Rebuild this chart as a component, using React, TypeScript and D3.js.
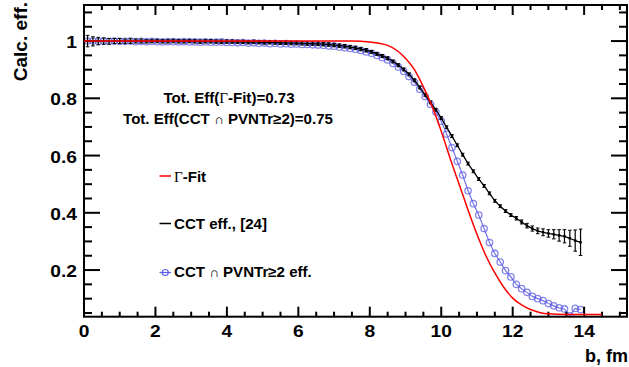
import React from "react";
import * as d3 from "d3";

// ---------- data ----------
const redB = [0, 7.5, 8.0, 8.5, 9.0, 9.25, 9.5, 9.75, 10.0, 10.25, 10.5, 10.75, 11.0, 11.25, 11.5, 11.75, 12.0, 12.25, 12.5, 12.75, 13.0, 13.5, 14.0, 14.5];
const redV = [1.0, 1.0, 0.997, 0.985, 0.94, 0.9, 0.84, 0.77, 0.685, 0.59, 0.5, 0.41, 0.325, 0.25, 0.19, 0.14, 0.102, 0.078, 0.062, 0.052, 0.047, 0.045, 0.045, 0.045];

const bins = [0.1, 0.25, 0.4, 0.55, 0.7, 0.85, 1.0, 1.15, 1.3, 1.45, 1.6, 1.75, 1.9, 2.05, 2.2, 2.35, 2.5, 2.65, 2.8, 2.95, 3.1, 3.25, 3.4, 3.55, 3.7, 3.85, 4.0,
  4.15, 4.3, 4.45, 4.6, 4.75, 4.9, 5.05, 5.2, 5.35, 5.5, 5.65, 5.8, 5.95, 6.1,
  6.25, 6.4, 6.55, 6.7, 6.85, 7.0, 7.15, 7.3, 7.45, 7.6, 7.75, 7.9,
  8.05, 8.2, 8.35, 8.5, 8.65, 8.8, 8.95, 9.1, 9.25, 9.4, 9.55, 9.7, 9.85,
  10.0, 10.15, 10.3, 10.45, 10.6, 10.75, 10.9, 11.05, 11.2, 11.35, 11.5, 11.65, 11.8, 11.95,
  12.1, 12.25, 12.4, 12.55, 12.7, 12.85, 13.0, 13.15, 13.3, 13.45, 13.6, 13.75, 13.9];

const cctV = [1.0, 0.999, 1.0, 1.0, 0.999, 1.0, 1.0, 0.999, 1.0, 1.0, 1.0, 0.999, 1.0, 1.0, 0.999, 0.999, 1.0, 0.999, 0.999, 1.0, 0.999, 0.998, 0.999, 0.999, 0.998, 0.998, 0.998,
  0.998, 0.997, 0.997, 0.996, 0.997, 0.996, 0.995, 0.996, 0.995, 0.994, 0.994, 0.993, 0.993, 0.992,
  0.991, 0.991, 0.99, 0.989, 0.988, 0.986, 0.984, 0.982, 0.979, 0.976, 0.972, 0.968,
  0.962, 0.955, 0.948, 0.94, 0.929, 0.916, 0.901, 0.884, 0.863, 0.838, 0.812, 0.786, 0.76,
  0.731, 0.699, 0.668, 0.636, 0.603, 0.572, 0.545, 0.518, 0.494, 0.468, 0.442, 0.423, 0.406, 0.392,
  0.381, 0.368, 0.355, 0.345, 0.337, 0.332, 0.328, 0.325, 0.321, 0.318, 0.311, 0.303, 0.297];

const cctErr = [0.02, 0.016, 0.013, 0.011, 0.01, 0.009, 0.009, 0.008, 0.008, 0.007, 0.007, 0.006, 0.006, 0.006, 0.006, 0.006, 0.006, 0.006, 0.006, 0.006, 0.006, 0.006, 0.006, 0.006, 0.006, 0.006, 0.006,
  0.006, 0.006, 0.006, 0.006, 0.006, 0.006, 0.006, 0.006, 0.006, 0.006, 0.006, 0.006, 0.006, 0.006,
  0.006, 0.006, 0.006, 0.006, 0.006, 0.006, 0.006, 0.006, 0.006, 0.006, 0.006, 0.006,
  0.005, 0.005, 0.005, 0.005, 0.005, 0.005, 0.005, 0.005, 0.005, 0.005, 0.005, 0.005, 0.005,
  0.005, 0.005, 0.005, 0.005, 0.005, 0.005, 0.005, 0.005, 0.005, 0.005, 0.005, 0.005, 0.005, 0.005,
  0.006, 0.007, 0.008, 0.009, 0.01, 0.012, 0.013, 0.016, 0.02, 0.023, 0.028, 0.037, 0.046];

const pvV = [1.0, 1.0, 0.999, 1.0, 0.999, 1.0, 0.999, 0.999, 1.0, 0.998, 0.999, 0.998, 0.999, 0.998, 0.997, 0.998, 0.998, 0.997, 0.998, 0.997, 0.997, 0.996, 0.997, 0.996, 0.996, 0.997, 0.995,
  0.995, 0.994, 0.995, 0.993, 0.994, 0.992, 0.993, 0.991, 0.992, 0.99, 0.991, 0.989, 0.99, 0.988,
  0.988, 0.987, 0.986, 0.985, 0.983, 0.982, 0.979, 0.977, 0.974, 0.971, 0.967, 0.962,
  0.957, 0.95, 0.942, 0.934, 0.922, 0.909, 0.894, 0.876, 0.856, 0.832, 0.806, 0.779, 0.752,
  0.72, 0.675, 0.628, 0.58, 0.532, 0.477, 0.432, 0.392, 0.345, 0.296, 0.258, 0.228, 0.198, 0.176,
  0.15, 0.135, 0.122, 0.108, 0.1, 0.093, 0.083, 0.075, 0.068, 0.064, 0.04, 0.066, 0.062];

const xMajor = [0, 2, 4, 6, 8, 10, 12, 14];
const xMinor = [0.5, 1, 1.5, 2.5, 3, 3.5, 4.5, 5, 5.5, 6.5, 7, 7.5, 8.5, 9, 9.5, 10.5, 11, 11.5, 12.5, 13, 13.5, 14.5, 15];
const yMajor = [0.2, 0.4, 0.6, 0.8, 1];
const yMinor = [0.05, 0.1, 0.15, 0.25, 0.3, 0.35, 0.45, 0.5, 0.55, 0.65, 0.7, 0.75, 0.85, 0.9, 0.95, 1.05, 1.1];
const yLabels = ["0.2", "0.4", "0.6", "0.8", "1"];

// ---------- layout ----------
const L = 84, R = 627, T = 5, B = 316.7;
const x = d3.scaleLinear().domain([0, 15.2]).range([L, R]);
const y = d3.scaleLinear().domain([0.037, 1.126]).range([B, T]);

const FONT = "'Liberation Sans', Arial, Helvetica, sans-serif";
const RED = "#ff0000";
const BLUE = "#5c5ce6";

function Txt(props: any) {
  const { px, py, size, anchor = "start", sx = 1, rot = 0, children } = props;
  return (
    <text
      transform={`translate(${px},${py}) rotate(${rot}) scale(${sx},1)`}
      fontSize={size}
      fontFamily={FONT}
      fontWeight="bold"
      textAnchor={anchor}
      fill="#000"
    >
      {children}
    </text>
  );
}

export default function App() {
  const redLine = d3
    .line<number>()
    .x((_, i) => x(redB[i]))
    .y((d) => y(d))
    .curve(d3.curveMonotoneX)(redV) as string;

  const cctLine = d3
    .line<number>()
    .x((_, i) => x(bins[i]))
    .y((d) => y(d))(cctV) as string;

  const pvLine = d3
    .line<number>()
    .x((_, i) => x(bins[i]))
    .y((d) => y(d))(pvV) as string;

  return (
    <svg width={629} height={367} style={{ position: "absolute", left: 0, top: 0 }}>
      <rect x={0} y={0} width={629} height={367} fill="#fff" />
      <defs>
        <clipPath id="plot">
          <rect x={L} y={T} width={R - L} height={B - T} />
        </clipPath>
      </defs>

      <g clipPath="url(#plot)">
        {/* blue series */}
        <path d={pvLine} fill="none" stroke={BLUE} strokeWidth={1.2} strokeOpacity={0.85} />
        {pvV.map((v, i) => (
          <circle key={"pv" + i} cx={x(bins[i])} cy={y(v)} r={3.2} fill="none" stroke={BLUE} strokeOpacity={0.75} strokeWidth={1.3} />
        ))}
        {/* black series */}
        <path d={cctLine} fill="none" stroke="#000" strokeWidth={1.3} />
        {cctV.map((v, i) => {
          const cx = x(bins[i]);
          const y1 = y(v + cctErr[i]);
          const y2 = y(v - cctErr[i]);
          return (
            <g key={"c" + i}>
              <line x1={cx} x2={cx} y1={y1} y2={y2} stroke="#000" strokeWidth={1.2} />
              <line x1={cx - 1.8} x2={cx + 1.8} y1={y1} y2={y1} stroke="#000" strokeWidth={1} />
              <line x1={cx - 1.8} x2={cx + 1.8} y1={y2} y2={y2} stroke="#000" strokeWidth={1} />
              <rect x={cx - 1.2} y={y(v) - 1.2} width={2.4} height={2.4} fill="#000" />
            </g>
          );
        })}
      </g>

      {/* frame */}
      <rect x={L} y={T} width={R - L} height={B - T} fill="none" stroke="#000" strokeWidth={2} />

      {/* x ticks */}
      {xMajor.map((t) => (
        <g key={"xm" + t}>
          <line x1={x(t)} x2={x(t)} y1={B} y2={B - 10} stroke="#000" strokeWidth={2} />
          <line x1={x(t)} x2={x(t)} y1={T} y2={T + 10} stroke="#000" strokeWidth={2} />
          <Txt px={x(t)} py={337} size={16} anchor="middle" sx={1.2}>{String(t)}</Txt>
        </g>
      ))}
      {xMinor.map((t) => (
        <g key={"xn" + t}>
          <line x1={x(t)} x2={x(t)} y1={B} y2={B - 5} stroke="#000" strokeWidth={2} />
          <line x1={x(t)} x2={x(t)} y1={T} y2={T + 5} stroke="#000" strokeWidth={2} />
        </g>
      ))}

      {/* y ticks */}
      {yMajor.map((t, i) => (
        <g key={"ym" + t}>
          <line x1={L} x2={L + 16} y1={y(t)} y2={y(t)} stroke="#000" strokeWidth={2} />
          <line x1={R} x2={R - 16} y1={y(t)} y2={y(t)} stroke="#000" strokeWidth={2} />
          <Txt px={77} py={y(t) + 7} size={16} anchor="end" sx={1.2}>{yLabels[i]}</Txt>
        </g>
      ))}
      {yMinor.map((t) => (
        <g key={"yn" + t}>
          <line x1={L} x2={L + 8} y1={y(t)} y2={y(t)} stroke="#000" strokeWidth={2} />
          <line x1={R} x2={R - 8} y1={y(t)} y2={y(t)} stroke="#000" strokeWidth={2} />
        </g>
      ))}

      {/* red fit drawn over the frame */}
      <path d={redLine} fill="none" stroke={RED} strokeWidth={1.5} />

      {/* axis titles */}
      <Txt px={628} py={362} size={18} anchor="end">b, fm</Txt>
      <Txt px={26.5} py={2} size={19} anchor="end" rot={-90}>Calc. eff.</Txt>

      {/* annotations */}
      <Txt px={229} py={103} size={14.5} anchor="middle" sx={1.04}>
        Tot. Eff(<tspan fontWeight="normal" fontFamily="'Liberation Serif', serif">Γ</tspan>-Fit)=0.73
      </Txt>
      <Txt px={228} py={123.5} size={14.5} anchor="middle" sx={1.04}>
        Tot. Eff(CCT <tspan fontWeight="normal" fontSize={13}>∩</tspan> PVNTr≥2)=0.75
      </Txt>

      {/* legend */}
      <line x1={159.5} x2={171} y1={176} y2={176} stroke={RED} strokeWidth={1.5} />
      <Txt px={174} py={181.5} size={14.5} sx={1.04}>
        <tspan fontWeight="normal" fontFamily="'Liberation Serif', serif">Γ</tspan>-Fit
      </Txt>
      <line x1={159.5} x2={171} y1={223.5} y2={223.5} stroke="#000" strokeWidth={1.5} />
      <Txt px={174} py={229} size={14.5} sx={1.04}>CCT eff., [24]</Txt>
      <line x1={159.5} x2={171} y1={272.5} y2={272.5} stroke={BLUE} strokeWidth={1.2} />
      <circle cx={165.3} cy={272.5} r={3} fill="none" stroke={BLUE} strokeWidth={1.2} />
      <Txt px={174} py={276.5} size={14.5} sx={1.04}>
        CCT <tspan fontWeight="normal" fontSize={13}>∩</tspan> PVNTr≥2 eff.
      </Txt>
    </svg>
  );
}
